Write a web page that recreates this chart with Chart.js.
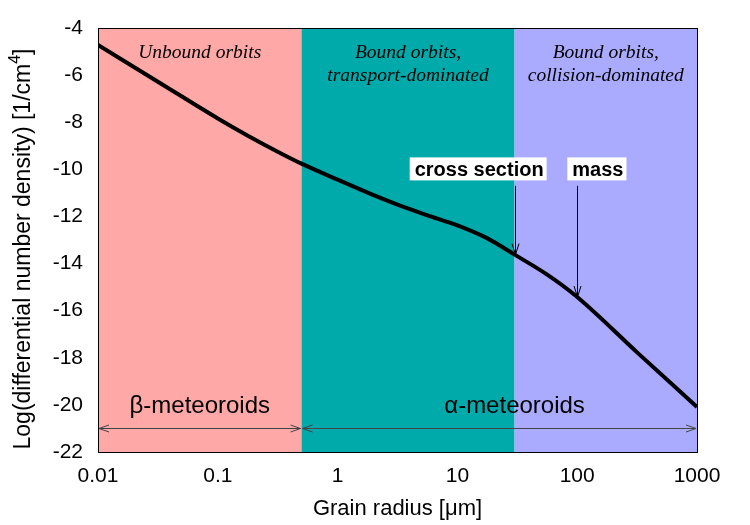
<!DOCTYPE html>
<html>
<head>
<meta charset="utf-8">
<script src="https://cdn.jsdelivr.net/npm/chart.js@4/dist/chart.umd.min.js"></script>
<style>
  html, body { margin: 0; padding: 0; background: #fff; }
  #wrap { width: 750px; height: 525px; }
</style>
</head>
<body>
<div id="wrap"><canvas id="c" width="750" height="525"></canvas></div>
<script>
// ---------- data ----------
const grainRadius = [0.01, 0.0316, 0.1, 0.178, 0.316, 0.5, 1, 1.78, 3.16, 5.62, 10, 17.8, 30, 55, 100, 316, 1000];
const logDensity  = [-4.72, -6.28, -7.84, -8.57, -9.25, -9.76, -10.44, -10.99, -11.5, -11.95, -12.38, -12.93, -13.62, -14.44, -15.42, -17.77, -20.09];

const xTickValues = [0.01, 0.1, 1, 10, 100, 1000];
const xTickLabels = ['0.01', '0.1', '1', '10', '100', '1000'];
const yTickValues = [-22, -20, -18, -16, -14, -12, -10, -8, -6, -4];

const regionEdges  = [0.01, 0.5, 30, 1000];
const regionColors = ['#FFA8A8', '#00AAAA', '#AAAAFF'];
const regionLabels = [['Unbound orbits'], ['Bound orbits,', 'transport-dominated'], ['Bound orbits,', 'collision-dominated']];

const populationNames  = ['\u03B2-meteoroids', '\u03B1-meteoroids'];
const populationFrom   = [0.01, 0.5];
const populationTo     = [0.5, 1000];
const populationLabelX = [0.0707, 30];
const populationArrowY = -21;
const populationLabelY = -20.34;

const annotationTexts  = ['cross section', 'mass'];
const annotationArrowX = [30, 100];
const annotationTipY   = [-13.62, -15.42];
const annotationTailY  = -10.7;
const annotationTextX  = [4.4, 91];
const annotationTextY  = -10.3;

const xTitle = 'Grain radius [\u03BCm]';
const yTitleMain = 'Log(differential number density) [1/cm';
const yTitleSup = '4';
const yTitleEnd = ']';

// ---------- helpers ----------
function arrowHead(ctx, tx, ty, fx, fy, len, half) {
  const dx = tx - fx, dy = ty - fy;
  const L = Math.hypot(dx, dy) || 1;
  const ux = dx / L, uy = dy / L;
  const px = -uy, py = ux;
  ctx.beginPath();
  ctx.moveTo(tx - ux * len + px * half, ty - uy * len + py * half);
  ctx.lineTo(tx, ty);
  ctx.lineTo(tx - ux * len - px * half, ty - uy * len - py * half);
  ctx.stroke();
}

const SANS = '"Liberation Sans", Arial, Helvetica, sans-serif';
const SERIF = '"Liberation Serif", "Times New Roman", serif';

const decorPlugin = {
  id: 'decor',
  beforeDraw(chart) {
    const {ctx, chartArea: a, scales: {x, y}} = chart;
    ctx.save();
    ctx.fillStyle = '#ffffff';
    ctx.fillRect(0, 0, chart.width, chart.height);
    for (let i = 0; i < regionColors.length; i++) {
      const x0 = x.getPixelForValue(regionEdges[i]);
      const x1 = x.getPixelForValue(regionEdges[i + 1]);
      ctx.fillStyle = regionColors[i];
      ctx.fillRect(x0, a.top, x1 - x0, a.bottom - a.top);
      ctx.fillStyle = '#000';
      ctx.font = 'italic 19.5px ' + SERIF;
      ctx.textAlign = 'center';
      ctx.textBaseline = 'alphabetic';
      regionLabels[i].forEach((t, j) => {
        ctx.fillText(t, (x0 + x1) / 2, a.top + 30 + j * 23);
      });
    }
    // y axis title (rotated), with raised exponent
    ctx.save();
    ctx.translate(30, (a.top + a.bottom) / 2 + 9);
    ctx.rotate(-Math.PI / 2);
    ctx.fillStyle = '#000';
    ctx.textBaseline = 'alphabetic';
    ctx.textAlign = 'left';
    ctx.font = '23px ' + SANS;
    const wMain = ctx.measureText(yTitleMain).width;
    const wEnd = ctx.measureText(yTitleEnd).width;
    ctx.font = '16px ' + SANS;
    const wSup = ctx.measureText(yTitleSup).width;
    const total = wMain + wSup + wEnd;
    let sx = -total / 2;
    ctx.font = '23px ' + SANS;
    ctx.fillText(yTitleMain, sx, 0);
    sx += wMain;
    ctx.font = '16px ' + SANS;
    ctx.fillText(yTitleSup, sx, -10);
    sx += wSup;
    ctx.font = '23px ' + SANS;
    ctx.fillText(yTitleEnd, sx, 0);
    ctx.restore();
    ctx.restore();
  },
  afterDatasetsDraw(chart) {
    const {ctx, chartArea: a, scales: {x, y}} = chart;
    ctx.save();
    // population arrows
    ctx.strokeStyle = '#444';
    ctx.lineWidth = 1;
    const ay = Math.round(y.getPixelForValue(populationArrowY)) + 0.5;
    for (let i = 0; i < populationNames.length; i++) {
      const x0 = x.getPixelForValue(populationFrom[i]) + 1;
      const x1 = x.getPixelForValue(populationTo[i]) - 1;
      ctx.beginPath();
      ctx.moveTo(x0, ay); ctx.lineTo(x1, ay); ctx.stroke();
      arrowHead(ctx, x0, ay, x1, ay, 10, 3.5);
      arrowHead(ctx, x1, ay, x0, ay, 10, 3.5);
      ctx.fillStyle = '#000';
      ctx.font = '24px ' + SANS;
      ctx.textAlign = 'center';
      ctx.textBaseline = 'alphabetic';
      ctx.fillText(populationNames[i], x.getPixelForValue(populationLabelX[i]), y.getPixelForValue(populationLabelY));
    }
    // annotations
    ctx.strokeStyle = '#000';
    for (let i = 0; i < annotationTexts.length; i++) {
      ctx.font = 'bold 20px ' + SANS;
      const tx = x.getPixelForValue(annotationTextX[i]);
      const ty = y.getPixelForValue(annotationTextY);
      const w = ctx.measureText(annotationTexts[i]).width;
      ctx.fillStyle = '#fff';
      ctx.fillRect(tx - 5, ty - 19, w + 8, 23);
      ctx.fillStyle = '#000';
      ctx.textAlign = 'left';
      ctx.textBaseline = 'alphabetic';
      ctx.fillText(annotationTexts[i], tx, ty);
      const px = Math.round(x.getPixelForValue(annotationArrowX[i])) + 0.5;
      const y0 = y.getPixelForValue(annotationTailY);
      const y1 = y.getPixelForValue(annotationTipY[i]);
      ctx.beginPath(); ctx.moveTo(px, y0); ctx.lineTo(px, y1); ctx.stroke();
      arrowHead(ctx, px, y1, px, y0, 11, 3.5);
    }
    // frame
    ctx.strokeStyle = '#000';
    ctx.lineWidth = 1;
    ctx.strokeRect(Math.round(a.left) + 0.5, Math.round(a.top) + 0.5, Math.round(a.right - a.left), Math.round(a.bottom - a.top));
    ctx.restore();
  }
};

new Chart(document.getElementById('c'), {
  type: 'line',
  data: {
    datasets: [{
      data: grainRadius.map((r, i) => ({x: r, y: logDensity[i]})),
      borderColor: '#000',
      borderWidth: 4,
      pointRadius: 0,
      cubicInterpolationMode: 'monotone',
      fill: false
    }]
  },
  options: {
    responsive: false,
    animation: false,
    devicePixelRatio: 1,
    layout: { padding: { left: 0, top: 28, right: 53, bottom: 0 } },
    plugins: { legend: { display: false }, tooltip: { enabled: false } },
    scales: {
      x: {
        type: 'logarithmic',
        min: 0.01, max: 1000,
        grid: { display: false },
        border: { display: false },
        afterBuildTicks: (s) => { s.ticks = xTickValues.map(v => ({value: v})); },
        afterFit: (s) => { s.height = 73; },
        ticks: {
          autoSkip: false, maxRotation: 0, padding: 4,
          color: '#000', font: { family: SANS, size: 21 },
          callback: (v) => { const k = xTickValues.indexOf(v); return k >= 0 ? xTickLabels[k] : ''; }
        },
        title: { display: true, text: xTitle, color: '#000', font: { family: SANS, size: 22 }, padding: { top: 0, bottom: 3 } }
      },
      y: {
        type: 'linear',
        min: -22, max: -4,
        grid: { display: false },
        border: { display: false },
        afterBuildTicks: (s) => { s.ticks = yTickValues.map(v => ({value: v})); },
        afterFit: (s) => { s.width = 98; },
        ticks: { padding: 7, color: '#000', font: { family: SANS, size: 21 }, callback: (v) => String(v) },
        title: { display: false }
      }
    }
  },
  plugins: [decorPlugin]
});
</script>
</body>
</html>
